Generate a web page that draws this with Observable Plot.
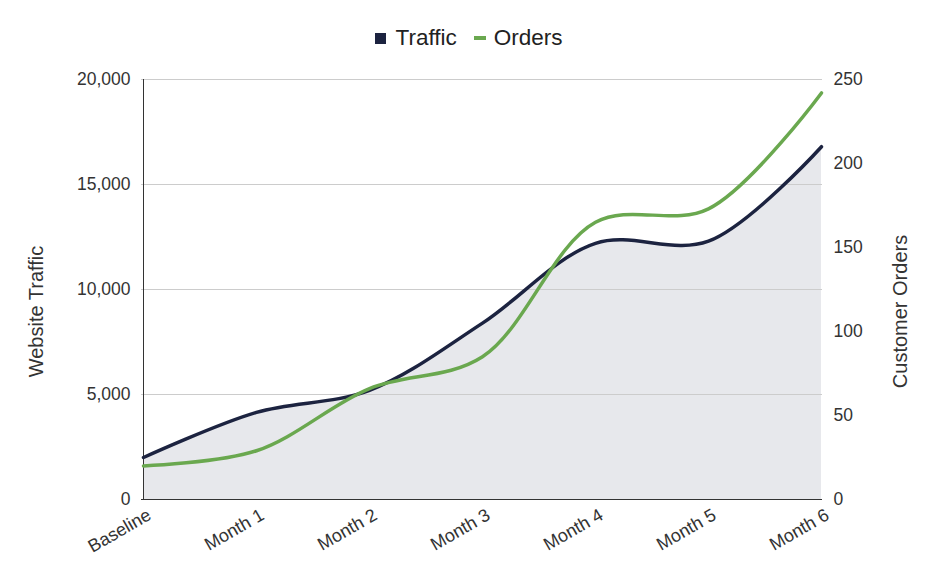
<!DOCTYPE html>
<html><head><meta charset="utf-8">
<script src="https://cdn.jsdelivr.net/npm/d3@7"></script>
<script src="https://cdn.jsdelivr.net/npm/@observablehq/plot@0.6"></script>
<style>
body{margin:0;background:#fff;font-family:"Liberation Sans",Arial,sans-serif;}
#legend{height:60px;box-sizing:border-box;padding-top:16px;display:flex;justify-content:center;align-items:center;font-size:22.5px;color:#222;}
#legend .sq{width:11px;height:11px;background:#1c2340;margin-right:9px;}
#legend .dash{width:12px;height:4px;background:#6aa84f;margin-left:17px;margin-right:8px;}
#legend span{line-height:44px;}
</style></head><body>
<div id="legend"><div class="sq"></div><span>Traffic</span><div class="dash"></div><span>Orders</span></div>
<div id="chart"></div>
<script>
const categories = ["Baseline", "Month 1", "Month 2", "Month 3", "Month 4", "Month 5", "Month 6"];
const traffic = [2000, 4150, 5200, 8400, 12200, 12300, 16800];
const orders = [20, 29, 66, 85, 165, 173, 242];
const trafficTicks = [0, 5000, 10000, 15000, 20000];
const orderTicks = [0, 50, 100, 150, 200, 250];
const ratio = 20000 / 250;
const data = categories.map((c, i) => ({month: c, traffic: traffic[i], orders: orders[i]}));

const plot = Plot.plot({
  width: 938, height: 518,
  marginTop: 19, marginBottom: 79, marginLeft: 141, marginRight: 116,
  style: {fontFamily: "Liberation Sans, Arial, sans-serif", fontSize: "17.5px", color: "#333", background: "#fff"},
  x: {type: "point", domain: categories, padding: 0, label: null},
  y: {domain: [0, 20000], label: null},
  marks: [
    Plot.areaY(data, {x: "month", y: "traffic", fill: "#e7e8ec", curve: "catmull-rom"}),
    Plot.gridY(trafficTicks, {stroke: "#cccccc", strokeOpacity: 1}),
    Plot.ruleY([0], {stroke: "#333"}),
    Plot.ruleX([categories[0]], {stroke: "#333"}),
    Plot.lineY(data, {x: "month", y: "traffic", stroke: "#1c2340", strokeWidth: 3.5, curve: "catmull-rom"}),
    Plot.lineY(data, {x: "month", y: d => d.orders * ratio, stroke: "#6aa84f", strokeWidth: 3.5, curve: "catmull-rom"}),
    Plot.axisY(trafficTicks, {anchor: "left", tickSize: 0, tickPadding: 11, tickFormat: d3.format(","), label: null}),
    Plot.axisY(orderTicks.map(v => v * ratio), {anchor: "right", tickSize: 0, tickPadding: 11, tickFormat: d => d / ratio, label: null}),
    Plot.axisX({tickSize: 0, tickRotate: -30, tickPadding: 14, dx: 6, fontSize: 18, label: null}),
    Plot.text(["Website Traffic"], {frameAnchor: "left", textAnchor: "middle", dx: -105, dy: 22, rotate: -90, fontSize: 20, fill: "#333"}),
    Plot.text(["Customer Orders"], {frameAnchor: "right", textAnchor: "middle", dx: 78, dy: 22, rotate: -90, fontSize: 20, fill: "#333"})
  ]
});
document.getElementById("chart").append(plot);
</script>
</body></html>
